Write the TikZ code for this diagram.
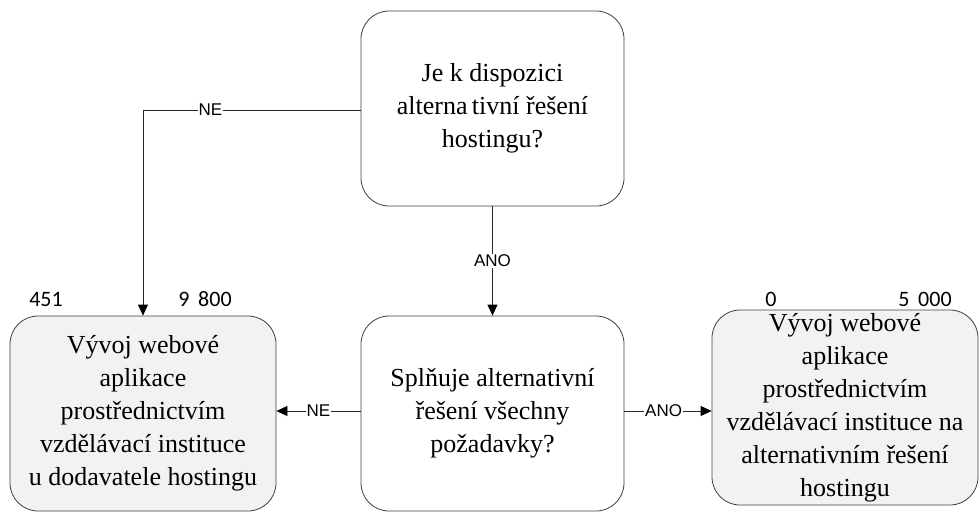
\documentclass[tikz,border=0pt]{standalone}
\usepackage{fontspec}
\newfontfamily\boxfont{Liberation Serif}
\newfontfamily\numfont{Carlito}
\newfontfamily\lblfont{Liberation Sans}
\usetikzlibrary{arrows.meta}
\definecolor{boxline}{HTML}{404040}
\definecolor{boxfill}{HTML}{F2F2F2}
\begin{document}
\begin{tikzpicture}[x=1pt,y=-1pt,
  box/.style={draw=boxline, line width=0.8pt, rounded corners=28pt, align=center,
    inner sep=0pt, font=\boxfont\fontsize{26}{33}\selectfont},
  decision/.style={box, fill=white},
  outcome/.style={box, fill=boxfill},
  link/.style={draw=black!85, line width=0.8pt,
    -{Triangle[length=11pt,width=10pt,color=black]}},
  lbl/.style={fill=white, inner sep=1pt, font=\lblfont\fontsize{17}{17}\selectfont},
  num/.style={font=\numfont\fontsize{22}{22}\selectfont, inner sep=0pt}]
\useasboundingbox (0,0) rectangle (979,511);

% decisions
\node[decision, minimum width=263pt, minimum height=195pt] (q1) at (492.5,108.5)
  {Je k dispozici\\alterna\,tivní řešení\\hostingu?};
\node[decision, minimum width=263pt, minimum height=195pt] (q2) at (492.5,413.5)
  {Splňuje alternativní\\řešení všechny\\požadavky?};

% outcomes
\node[outcome, minimum width=266pt, minimum height=195pt] (o1) at (143,413.5)
  {Vývoj webové\\aplikace\\prostřednictvím\\vzdělávací instituce\\u dodavatele hostingu};
\node[outcome, minimum width=266pt, minimum height=195pt] (o2) at (845,407.5)
  {Vývoj webové\\aplikace\\prostřednictvím\\vzdělávací instituce na\\alternativním řešení\\hostingu};

% connectors
\coordinate (bend) at (143,110);
\draw[link] (q1.west |- 0,110) -- node[lbl, pos=0.69] {NE} (bend) -- (o1.north -| bend);
\draw[link] (q1.south) -- node[lbl] {ANO} (q2.north);
\draw[link] (q2.west |- 0,411) -- node[lbl, pos=0.5] {NE} (o1.east |- 0,411);
\draw[link] (q2.east |- 0,411) -- node[lbl, pos=0.45] {ANO} (o2.west |- 0,411);

% values
\node[num] (v1) at (46,299) {451};
\node[num] (v2) at (205,299) {9\hspace{0.4em}800};
\node[num] (v3) at (771,299) {0};
\node[num] (v4) at (925,299) {5\hspace{0.4em}000};
\end{tikzpicture}
\end{document}
